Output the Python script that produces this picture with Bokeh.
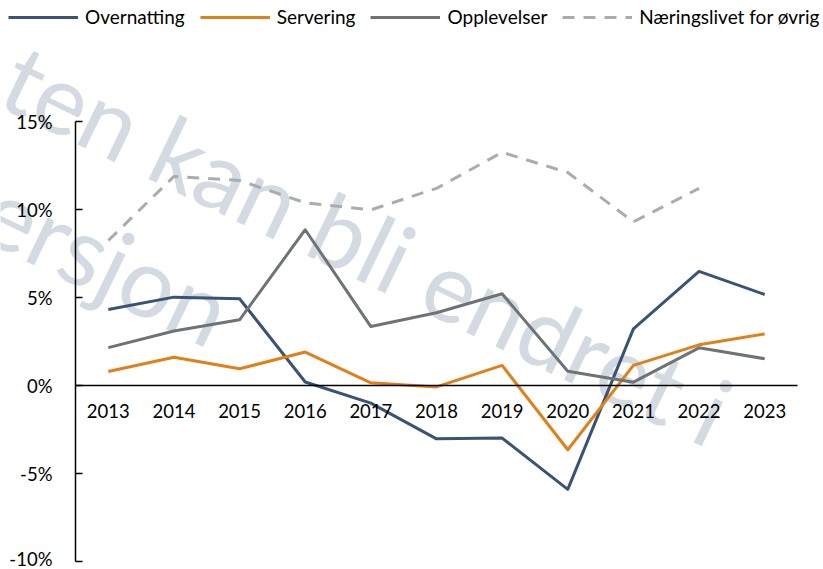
from bokeh.plotting import figure
from bokeh.models import (Range1d, FixedTicker, PrintfTickFormatter, Legend,
                          LegendItem, Label, LinearAxis)
from bokeh.embed import file_html
from bokeh.resources import INLINE

# ---- data ----
years = [2013, 2014, 2015, 2016, 2017, 2018, 2019, 2020, 2021, 2022, 2023]
year_labels = {y: str(y) for y in years}
overnatting = [4.32, 5.02, 4.93, 0.2, -1.0, -3.03, -2.99, -5.9, 3.22, 6.48, 5.17]
servering = [0.8, 1.6, 0.95, 1.9, 0.15, -0.08, 1.14, -3.65, 1.14, 2.31, 2.93]
opplevelser = [2.15, 3.1, 3.73, 8.85, 3.35, 4.13, 5.21, 0.81, 0.19, 2.14, 1.52]
naeringslivet = [8.24, 11.88, 11.65, 10.38, 9.98, 11.2, 13.25, 12.1, 9.3, 11.2, float("nan")]
series_names = ["Overnatting", "Servering", "Opplevelser", "Næringslivet for øvrig"]
y_ticks = [-10, -5, 0, 5, 10, 15]
watermark_lines = ["ten kan bli endret i", "ersjon"]

FONT = "Lato"

# ---- layout geometry (pixels) ----
W, H = 823, 569
AX_L, AX_R = 75, 797        # x pixel of plot area left / right edge
AX_T, AX_B = 121, 561       # y pixel of 15% and -10%
Y_MIN, Y_MAX = -10, 15
X_MIN, X_MAX = years[0] - 0.5, years[-1] + 0.5
ppx = (AX_R - AX_L) / (X_MAX - X_MIN)
ppy = (AX_B - AX_T) / (Y_MAX - Y_MIN)

def px2x(px):
    return X_MIN + (px - AX_L) / ppx

def py2y(py):
    return Y_MAX - (py - AX_T) / ppy

p = figure(width=W, height=H, output_backend="svg", toolbar_location=None,
           x_range=Range1d(px2x(0), px2x(W)), y_range=Range1d(py2y(H), py2y(0)),
           x_axis_location=None, y_axis_location=None,
           min_border=0, min_border_left=0, min_border_right=0,
           min_border_top=0, min_border_bottom=0)
p.background_fill_color = "white"
p.border_fill_color = "white"
p.outline_line_color = None
p.grid.visible = False

# y axis
ya = LinearAxis(fixed_location=X_MIN, bounds=(Y_MIN, Y_MAX),
                ticker=FixedTicker(ticks=y_ticks),
                formatter=PrintfTickFormatter(format="%d%%"))
ya.axis_line_color = "black"
ya.axis_line_width = 1.5
ya.major_tick_line_color = "black"
ya.major_tick_line_width = 1.5
ya.major_tick_in = 7
ya.major_tick_out = 0
ya.minor_tick_line_color = None
ya.major_label_standoff = 23
ya.major_label_text_font = FONT
ya.major_label_text_font_size = "18.5px"
ya.major_label_text_color = "black"
p.add_layout(ya, "left")

# x axis at zero
xa = LinearAxis(fixed_location=0, bounds=(X_MIN, X_MAX),
                ticker=FixedTicker(ticks=years))
xa.major_label_overrides = year_labels
xa.axis_line_color = "black"
xa.axis_line_width = 1.5
xa.major_tick_line_color = None
xa.minor_tick_line_color = None
xa.major_tick_in = 0
xa.major_tick_out = 0
xa.major_label_standoff = 18
xa.major_label_text_font = FONT
xa.major_label_text_font_size = "18.5px"
xa.major_label_text_color = "black"
p.add_layout(xa, "below")

# watermark (behind data)
wm_color = "#d3dae2"
for txt, (bx, by) in zip(watermark_lines, [(10, 70), (-10, 202)]):
    p.add_layout(Label(x=px2x(bx), y=py2y(by), text=txt, angle=-25.8, angle_units="deg",
                       text_font=FONT, text_font_size="97px", text_color=wm_color,
                       text_baseline="alphabetic", text_align="left", level="underlay"))

colors = ["#3a5372", "#e0801a", "#6e7377", "#a8adb2"]
data = [overnatting, servering, opplevelser, naeringslivet]
renderers = []
for i, (vals, c) in enumerate(zip(data, colors)):
    dash = "12 9" if i == 3 else "solid"
    r = p.line(years, vals, line_color=c, line_width=3, line_dash=dash,
               line_join="round", line_cap="butt")
    renderers.append(r)

legend = Legend(items=[LegendItem(label=n, renderers=[r]) for n, r in zip(series_names, renderers)],
                orientation="horizontal", location=(8, 541), padding=0, margin=0,
                spacing=15, glyph_width=70, glyph_height=20, label_standoff=7,
                label_text_font=FONT, label_text_font_size="19px",
                label_text_color="black", border_line_color=None,
                background_fill_alpha=0)
p.add_layout(legend)

open("out.html", "w").write(file_html(p, INLINE))
